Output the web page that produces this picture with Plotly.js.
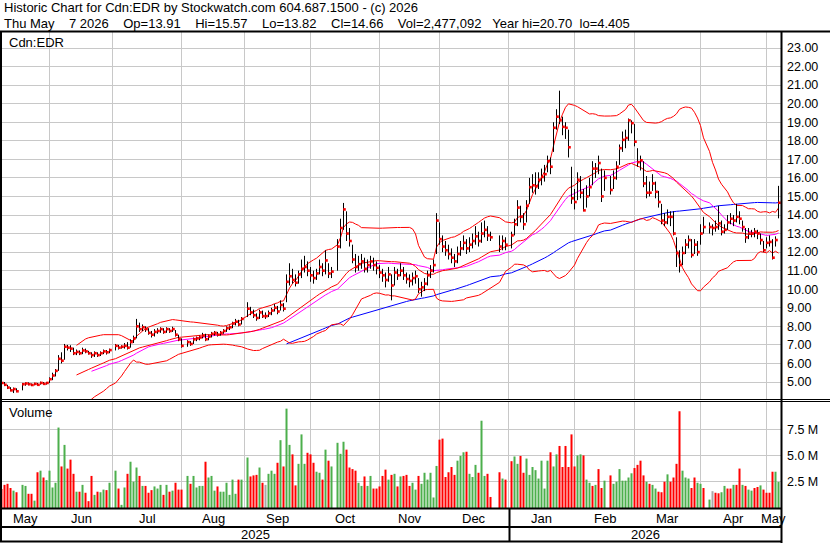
<!DOCTYPE html>
<html><head><meta charset="utf-8">
<script src="https://cdn.plot.ly/plotly-3.0.1.min.js"></script>
<style>html,body{margin:0;padding:0;background:#fff;overflow:hidden}#chart{width:830px;height:543px}</style>
</head><body><div id="chart"></div>
<script>
// ---------- DATA (one entry per weekday from Fri 2025-05-09 to Thu 2026-05-07; null = market closed) ----------
const firstDay = [2025, 4, 9]; // 2025-05-09 (UTC month is 0-based)
const closes = [
4.95,4.85,4.70,4.55,4.62,4.50,null,4.88,4.92,4.88,
4.84,4.90,4.85,4.95,4.90,4.95,5.15,5.35,5.60,6.25,
6.15,6.90,6.85,6.80,6.55,6.62,6.55,6.70,6.65,6.55,
6.45,6.55,6.45,6.55,6.65,6.60,6.72,null,6.95,6.85,
6.90,6.95,6.85,7.15,7.35,8.00,7.85,7.95,7.85,7.65,
7.55,7.70,7.75,7.85,7.70,7.85,7.75,7.85,7.55,7.30,
6.95,null,7.15,7.05,7.30,7.35,7.40,7.50,7.30,7.45,
7.60,7.65,7.55,7.65,7.75,7.90,7.95,8.15,8.25,8.10,
8.40,null,8.95,8.75,8.60,8.45,8.75,8.55,8.55,8.70,
8.85,9.00,8.80,9.15,8.95,10.40,10.70,10.50,10.35,10.80,
11.10,11.20,11.00,10.75,10.60,10.85,11.20,11.00,11.55,10.85,
10.95,null,12.30,13.30,14.30,13.00,12.60,11.60,11.20,11.35,
11.50,11.10,11.30,11.50,11.30,11.15,10.90,10.75,10.50,10.80,
10.20,10.90,10.75,11.00,10.75,10.55,10.45,10.60,10.70,10.00,
10.10,10.30,10.75,11.00,11.30,13.70,12.70,12.30,12.10,11.90,
11.70,11.50,11.90,12.20,12.50,12.20,12.40,12.60,12.85,12.60,
13.00,13.20,12.90,12.80,null,null,12.30,12.60,12.40,null,
12.90,13.50,14.40,13.90,13.50,14.50,15.50,15.60,15.55,15.90,
16.05,16.20,16.90,16.60,18.70,19.30,19.10,18.75,18.70,17.65,
14.90,14.70,15.90,15.20,14.25,15.00,15.50,16.50,16.50,16.80,
15.00,16.00,null,15.35,16.00,16.60,17.60,18.05,18.15,19.10,
18.95,17.95,16.85,16.95,15.70,15.20,15.20,15.70,15.25,14.70,
13.70,13.60,13.90,13.90,13.00,11.95,11.30,11.95,12.40,12.65,
11.85,12.40,12.00,13.00,13.35,null,13.35,13.30,13.35,13.55,
13.10,13.20,13.60,13.80,13.70,13.90,13.80,13.35,12.80,13.00,
13.00,13.10,13.00,12.65,12.10,12.50,12.55,11.70,12.65,14.66];
const highs = [
5.05,5.00,4.85,4.72,4.70,4.66,null,4.95,4.98,4.98,
4.92,4.96,4.95,5.02,5.00,5.00,5.25,5.50,5.70,6.45,
6.60,7.05,7.00,6.98,6.85,6.75,6.70,6.85,6.80,6.68,
6.60,6.65,6.60,6.65,6.75,6.72,6.80,null,7.05,7.00,
6.98,7.10,7.15,7.30,7.50,8.40,8.20,8.10,8.00,7.90,
7.75,7.85,7.90,7.95,7.90,7.95,7.90,7.98,7.80,7.55,
7.35,null,7.25,7.20,7.40,7.45,7.50,7.65,7.60,7.55,
7.70,7.75,7.70,7.75,7.85,8.00,8.05,8.25,8.40,8.35,
8.50,null,9.30,9.05,8.90,8.70,8.90,8.85,8.75,8.85,
9.00,9.20,9.10,9.40,9.25,10.80,11.40,11.10,10.80,11.00,
11.60,11.80,11.50,11.20,11.00,11.10,11.60,11.40,12.10,11.40,
11.20,null,12.70,13.80,14.65,14.20,13.30,12.40,11.90,11.80,
11.90,11.70,11.60,11.80,11.70,11.50,11.30,11.10,10.90,11.20,
10.80,11.20,11.10,11.40,11.20,10.90,10.80,10.90,11.00,10.60,
10.40,10.60,11.00,11.30,11.60,14.10,13.60,12.90,12.60,12.40,
12.20,11.90,12.30,12.60,12.90,12.70,12.80,13.00,13.40,13.10,
13.60,13.70,13.40,13.10,null,null,12.90,12.90,12.80,null,
13.10,13.80,14.80,14.50,14.10,14.80,16.00,16.20,16.30,16.30,
16.50,16.70,17.20,17.10,19.00,19.70,20.70,19.30,19.00,18.60,
16.60,15.40,16.30,16.10,15.40,15.60,16.00,16.90,16.80,17.20,
16.50,16.40,null,16.10,16.40,16.90,17.80,18.50,18.60,19.20,
19.10,18.90,17.60,17.20,16.90,16.10,15.80,16.20,15.80,15.30,
14.60,14.10,14.30,14.20,14.20,12.80,12.10,12.30,12.70,12.90,
12.70,12.70,12.60,13.50,13.90,null,13.60,13.50,13.70,14.50,
13.70,13.50,14.00,14.10,14.00,14.60,14.20,13.70,13.30,13.30,
13.20,13.30,13.20,13.00,12.60,12.80,12.90,12.70,12.85,15.57];
const lows = [
4.85,4.78,4.62,4.50,4.405,4.45,null,4.55,4.80,4.82,
4.78,4.82,4.80,4.86,4.85,4.86,4.95,5.10,5.30,5.60,
6.00,6.20,6.70,6.62,6.45,6.45,6.45,6.50,6.55,6.48,
6.30,6.35,6.35,6.40,6.50,6.48,6.55,null,6.70,6.75,
6.80,6.80,6.75,6.85,7.10,7.35,7.70,7.75,7.70,7.55,
7.40,7.45,7.60,7.65,7.60,7.65,7.65,7.70,7.45,7.20,
6.85,null,6.90,6.95,7.05,7.20,7.25,7.35,7.20,7.25,
7.40,7.50,7.45,7.50,7.60,7.70,7.80,7.90,8.05,8.00,
8.10,null,8.50,8.60,8.45,8.30,8.40,8.45,8.40,8.50,
8.60,8.80,8.65,8.85,8.80,9.30,10.20,10.30,10.15,10.30,
10.60,10.90,10.70,10.40,10.30,10.50,10.80,10.70,10.80,10.60,
10.60,null,11.00,12.20,13.20,12.60,12.30,11.40,10.90,11.00,
11.10,10.90,10.90,11.10,11.00,10.80,10.60,10.40,10.10,10.40,
9.40,10.20,10.50,10.70,10.50,10.30,10.10,10.20,10.30,9.80,
9.60,9.90,10.20,10.60,10.90,11.90,12.40,12.00,11.80,11.60,
11.40,11.20,11.40,11.80,12.10,11.90,12.00,12.20,12.40,12.30,
12.50,12.80,12.60,12.60,null,null,12.00,12.10,12.10,null,
12.20,12.90,13.40,13.60,13.20,13.60,14.60,15.20,15.10,15.40,
15.60,15.80,16.30,16.20,17.40,18.60,18.90,18.30,18.10,17.10,
14.60,14.30,14.80,14.90,14.20,14.40,15.00,15.60,16.00,16.20,
14.70,15.30,null,15.10,15.40,15.90,16.70,17.40,17.60,18.00,
18.40,17.70,16.60,16.40,15.50,14.90,15.00,15.30,14.90,14.40,
13.50,13.40,13.50,13.40,12.90,11.20,10.90,11.30,11.90,12.20,
11.70,11.90,11.80,12.40,13.00,null,13.00,12.90,13.10,13.20,
12.90,13.00,13.20,13.50,13.40,13.60,13.50,13.10,12.50,12.70,
12.80,12.80,12.70,12.40,12.00,12.20,12.30,11.60,12.30,13.82];
const volumeM = [
1.8,2.2,2.3,1.9,1.65,1.5,null,2.2,2.1,1.35,
1.35,0.7,3.4,3.55,2.9,2.65,3.55,1.95,2.4,7.65,
3.95,6.0,3.75,4.6,3.25,1.55,1.55,2.2,1.45,0.65,
3.05,1.25,1.55,1.5,1.75,1.7,2.4,null,3.55,1.85,
0.3,1.95,3.25,4.4,2.5,3.85,3.05,2.1,2.1,1.45,
1.7,2.05,1.85,2.2,1.25,2.2,1.55,1.65,2.4,1.75,
1.75,null,3.05,2.3,3.05,1.95,2.1,2.1,4.4,2.9,
3.05,1.65,2.05,1.55,1.55,2.4,1.25,2.7,1.35,2.7,
2.7,null,4.8,3.0,3.1,3.15,3.85,2.4,2.2,3.25,
3.55,3.25,4.3,6.45,3.95,9.45,6.0,5.1,2.15,4.2,
7.0,4.2,5.25,5.1,4.3,3.45,3.35,2.7,5.55,4.5,
3.95,null,6.2,5.15,6.3,5.55,3.85,3.7,3.55,2.4,
2.1,3.0,2.1,3.05,1.85,1.85,2.05,3.05,3.65,2.7,
3.15,3.25,2.05,3.0,3.05,3.15,2.1,2.4,1.75,3.05,
2.3,3.35,2.7,3.35,1.0,4.0,6.5,6.6,2.95,3.4,
3.9,3.15,4.5,4.95,5.3,5.35,3.25,2.95,4.1,3.35,
8.3,3.05,3.25,1.05,null,null,3.4,2.8,2.7,null,
4.45,4.9,4.2,4.95,3.35,4.7,3.15,3.9,3.6,2.8,
4.5,1.85,4.5,5.3,3.95,5.1,5.9,3.9,5.9,3.9,
7.0,3.95,5.0,5.1,5.0,2.7,2.4,2.1,2.2,3.7,
1.9,2.6,null,3.1,2.3,2.5,3.7,2.6,2.6,2.9,
3.3,3.8,4.1,4.5,3.1,2.5,2.3,2.2,1.85,1.55,
1.5,2.5,3.2,2.5,2.9,4.2,9.2,3.55,2.9,2.8,
1.9,2.9,2.4,2.3,1.9,null,0.8,1.6,1.45,1.4,
1.5,2.1,1.85,1.85,2.2,2.2,3.75,2.2,2.1,1.75,
1.65,1.9,2.0,2.15,1.75,1.45,1.45,3.45,3.45,2.48];
// +1 up day (green), -1 down day (red), 0 unchanged (grey)
const volumeDir = [
-1,-1,-1,-1,1,-1,0,1,1,-1,
-1,1,-1,1,-1,1,1,1,1,1,
-1,1,-1,-1,-1,1,-1,1,-1,-1,
-1,1,-1,1,1,-1,1,0,1,-1,
1,1,-1,1,1,1,-1,1,-1,-1,
-1,1,1,1,-1,1,-1,1,-1,-1,
-1,0,1,-1,1,1,1,1,-1,1,
1,1,-1,1,1,1,1,1,1,-1,
1,0,1,-1,-1,-1,1,-1,0,1,
1,1,-1,1,-1,1,1,-1,-1,1,
1,1,-1,-1,-1,1,1,-1,1,-1,
1,0,1,1,1,-1,-1,-1,-1,1,
1,-1,1,1,-1,-1,-1,-1,-1,1,
-1,1,-1,1,-1,-1,-1,1,1,-1,
1,1,1,1,1,1,-1,-1,-1,-1,
-1,-1,1,1,1,-1,1,1,1,-1,
1,1,-1,-1,0,0,-1,1,-1,0,
-1,1,1,-1,-1,1,1,1,1,1,
1,1,1,-1,1,1,-1,-1,-1,-1,
-1,-1,1,1,-1,1,1,-1,1,-1,
-1,1,0,-1,1,1,1,1,1,1,
1,-1,-1,-1,-1,1,-1,1,1,-1,
-1,-1,1,-1,-1,-1,-1,1,1,1,
-1,-1,1,1,-1,0,1,0,-1,-1,
1,1,-1,-1,1,-1,-1,1,-1,1,
1,-1,-1,1,-1,-1,-1,-1,1,1];
const monthNames = ['Jan','Feb','Mar','Apr','May','Jun','Jul','Aug','Sep','Oct','Nov','Dec'];
const priceTicks = [5,6,7,8,9,10,11,12,13,14,15,16,17,18,19,20,21,22,23];
const volTicks = [2.5,5,7.5];
const volTickText = ['2.5 M','5.0 M','7.5 M'];
const bbPeriod = 25, maMid = 30, maLong = 92;
const headerLine1 = 'Historic Chart for Cdn:EDR by Stockwatch.com 604.687.1500 - (c) 2026';
const headerLine2 = 'Thu May    7 2026    Op=13.91    Hi=15.57    Lo=13.82    Cl=14.66    Vol=2,477,092   Year hi=20.70  lo=4.405';
const symbolLabel = 'Cdn:EDR';
const volumeLabel = 'Volume';

// ---------- BUILD ----------
const FW = 830, FH = 543;
const P = px => px / FW, Q = py => 1 - py / FH;
const X0 = 2, X1 = 781, R0 = 1 + 1/6, R1 = 260 + 5/6;
const pxOf = i => X0 + (i - R0) * (X1 - X0) / (R1 - R0);
const FONT = 'Arial, "Liberation Sans", Helvetica, sans-serif';
const nb = s => s.replace(/ /g, '\u00a0');

const N = closes.length;
const dates = [];
{ const d = new Date(Date.UTC(firstDay[0], firstDay[1], firstDay[2]));
  while (dates.length < N) { const w = d.getUTCDay(); if (w !== 0 && w !== 6) dates.push(new Date(d)); d.setUTCDate(d.getUTCDate() + 1); } }
const idx = dates.map((_, k) => k + 1);

// high-low bars
const hlX = [], hlY = [], cX = [], cY = [];
const tX = [], tC = [];
for (let k = 0; k < N; k++) {
  if (closes[k] === null) continue;
  hlX.push(idx[k], idx[k], null); hlY.push(lows[k], highs[k], null);
  cX.push(idx[k] + 0.33); cY.push(closes[k]);
  tX.push(idx[k]); tC.push(closes[k]);
}
function sma(n) { const x = [], y = [];
  for (let j = n - 1; j < tC.length; j++) { let s = 0; for (let m = j - n + 1; m <= j; m++) s += tC[m]; x.push(tX[j]); y.push(s / n); }
  return {x, y}; }
function bands(n) { const x = [], mid = [], up = [], lo = [];
  for (let j = n - 1; j < tC.length; j++) { let s = 0; for (let m = j - n + 1; m <= j; m++) s += tC[m]; const mu = s / n;
    let v = 0; for (let m = j - n + 1; m <= j; m++) v += (tC[m] - mu) ** 2; const sd = Math.sqrt(v / n);
    x.push(tX[j]); mid.push(mu); up.push(mu + 2 * sd); lo.push(mu - 2 * sd); }
  return {x, mid, up, lo}; }
const bb = bands(bbPeriod), m30 = sma(maMid), mL = sma(maLong);

const vX = [], vY = [], vC = [];
const colorFor = d => d > 0 ? '#4caf4c' : (d < 0 ? '#ff0000' : '#a8a8a8');
for (let k = 0; k < N; k++) { if (volumeM[k] === null) continue; vX.push(idx[k]); vY.push(volumeM[k]); vC.push(colorFor(volumeDir[k])); }

// month boundaries
const monthStarts = [];
for (let k = 1; k < N; k++) if (dates[k].getUTCMonth() !== dates[k - 1].getUTCMonth()) monthStarts.push(k);
const gridVals = monthStarts.map(k => idx[k]);

const annotations = [];
const txt = (text, xpx, ypx, anchor, size) => annotations.push({text: nb(text), xref: 'paper', yref: 'paper', x: P(xpx), y: Q(ypx),
  xanchor: anchor, yanchor: 'middle', showarrow: false, font: {family: FONT, size: size || 13, color: '#000'}, borderpad: 0});
txt(headerLine1, 3, 8, 'left');
txt(headerLine2, 3, 23.5, 'left');
txt(symbolLabel, 8, 42, 'left');
txt(volumeLabel, 8, 413, 'left');
// month labels centred in each month's span
const segs = [];
let segStart = X0, segMonth = dates[0].getUTCMonth();
monthStarts.forEach(k => { const px = pxOf(idx[k]); segs.push([segStart, px, segMonth]); segStart = px; segMonth = dates[k].getUTCMonth(); });
segs.push([segStart, X1, segMonth]);
segs.forEach(s => txt(monthNames[s[2]], (s[0] + s[1]) / 2, 518.5, 'center'));
// year labels
let yearSplitPx = X1; const yearFirst = dates[0].getUTCFullYear();
for (let k = 1; k < N; k++) if (dates[k].getUTCFullYear() !== dates[k - 1].getUTCFullYear()) { yearSplitPx = pxOf(idx[k]) + 1; break; }
txt(String(yearFirst), (X0 + yearSplitPx) / 2, 534.5, 'center');
txt(String(yearFirst + 1), (yearSplitPx + X1) / 2, 534.5, 'center');

const shapes = [];
const ln = (x0, y0, x1, y1, w) => shapes.push({type: 'line', xref: 'paper', yref: 'paper', x0: P(x0), y0: Q(y0), x1: P(x1), y1: Q(y1), line: {color: '#000', width: w}});
ln(0, 31.5, FW, 31.5, 2);
ln(1, 31, 1, 542, 2);
ln(781.5, 31, 781.5, FH, 2);
ln(0, 399.5, FW, 399.5, 1);
ln(0, 401.5, FW, 401.5, 1);
ln(0, 508.5, 781, 508.5, 2);
ln(0, 527, 781, 527, 2);
ln(0, 541.5, 781, 541.5, 2);
ln(yearSplitPx, 508, yearSplitPx, 541, 2);

const gridCol = '#c8c8c8';
const xBase = {domain: [P(X0), P(X1)], range: [R0, R1], tickvals: gridVals, showticklabels: false, ticks: '', showgrid: true,
  gridcolor: gridCol, gridwidth: 1, zeroline: false, showline: false, fixedrange: true};
const layout = {
  width: FW, height: FH, margin: {l: 0, r: 0, t: 0, b: 0}, paper_bgcolor: '#fff', plot_bgcolor: '#fff', showlegend: false,
  xaxis: Object.assign({anchor: 'y'}, xBase),
  xaxis2: Object.assign({anchor: 'y2'}, xBase),
  yaxis: {domain: [Q(399), Q(32)], range: [4.084, 23.862], side: 'right', anchor: 'x', tickvals: priceTicks, tickformat: '.2f',
    ticks: '', ticklabelstandoff: 5, showgrid: true, gridcolor: gridCol, zeroline: false, showline: false, fixedrange: true,
    tickfont: {family: FONT, size: 12.5, color: '#000'}},
  yaxis2: {domain: [Q(508), Q(402)], range: [0, 10.08], side: 'right', anchor: 'x2', tickvals: volTicks, ticktext: volTickText,
    ticks: '', ticklabelstandoff: 5, showgrid: true, gridcolor: gridCol, zeroline: false, showline: false, fixedrange: true,
    tickfont: {family: FONT, size: 12.5, color: '#000'}},
  annotations, shapes
};
const lineTr = (x, y, color) => ({type: 'scatter', mode: 'lines', x, y, xaxis: 'x', yaxis: 'y', line: {color, width: 1}, hoverinfo: 'skip'});
const data = [
  lineTr(mL.x, mL.y, '#0000ff'),
  lineTr(m30.x, m30.y, '#ff00ff'),
  lineTr(bb.x, bb.up, '#ff0000'),
  lineTr(bb.x, bb.mid, '#ff0000'),
  lineTr(bb.x, bb.lo, '#ff0000'),
  {type: 'scatter', mode: 'lines', x: hlX, y: hlY, xaxis: 'x', yaxis: 'y', line: {color: '#000', width: 1}, connectgaps: false, hoverinfo: 'skip'},
  {type: 'scatter', mode: 'markers', x: cX, y: cY, xaxis: 'x', yaxis: 'y', marker: {symbol: 'square', size: 2.6, color: '#ff0000', line: {width: 0}}, hoverinfo: 'skip'},
  {type: 'bar', x: vX, y: vY, xaxis: 'x2', yaxis: 'y2', width: 0.67, marker: {color: vC, line: {width: 0}}, hoverinfo: 'skip'}
];
Plotly.newPlot('chart', data, layout, {staticPlot: true, displayModeBar: false});
</script>
</body></html>
